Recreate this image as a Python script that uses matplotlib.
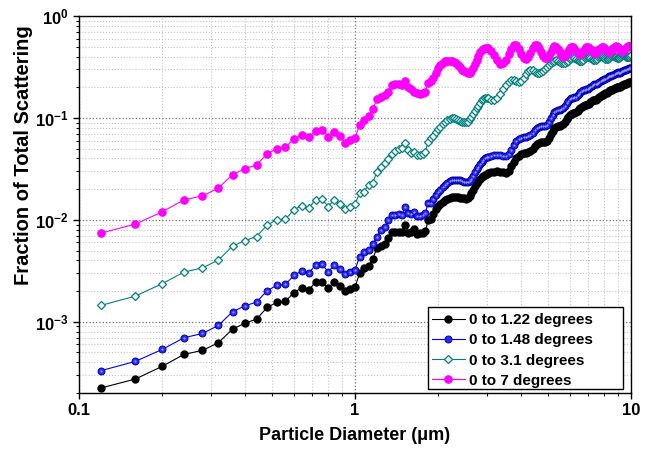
import numpy as np
import matplotlib
matplotlib.use("Agg")
import matplotlib.pyplot as plt
from matplotlib.patches import Rectangle
from matplotlib.ticker import FixedLocator, FixedFormatter, NullFormatter, LogLocator

plt.rcParams['font.family'] = ['Liberation Sans', 'DejaVu Sans']
plt.rcParams['font.weight'] = 'bold'
plt.rcParams['mathtext.fontset'] = 'custom'
plt.rcParams['mathtext.rm'] = 'Liberation Sans:bold'
plt.rcParams['mathtext.bf'] = 'Liberation Sans:bold'
plt.rcParams['mathtext.it'] = 'Liberation Sans:bold:italic'

# particle diameter (um): 0.04 steps up to 3 um, 0.08 steps above
diameter_um = [
    0.12, 0.16, 0.20, 0.24, 0.28, 0.32, 0.36, 0.40, 0.44, 0.48, 0.52, 0.56,
    0.60, 0.64, 0.68, 0.72, 0.76, 0.80, 0.84, 0.88, 0.92, 0.96, 1.00,
    1.04, 1.08, 1.12, 1.16, 1.20, 1.24, 1.28, 1.32, 1.36, 1.40, 1.44, 1.48,
    1.52, 1.56, 1.60, 1.64, 1.68, 1.72, 1.76, 1.80, 1.84, 1.88, 1.92, 1.96, 2.00,
    2.04, 2.08, 2.12, 2.16, 2.20, 2.24, 2.28, 2.32, 2.36, 2.40, 2.44, 2.48,
    2.52, 2.56, 2.60, 2.64, 2.68, 2.72, 2.76, 2.80, 2.84, 2.88, 2.92, 2.96, 3.00,
    3.04, 3.12, 3.20, 3.28, 3.36, 3.44, 3.52, 3.60, 3.68, 3.76, 3.84, 3.92,
    4.00, 4.08, 4.16, 4.24, 4.32, 4.40, 4.48, 4.56, 4.64, 4.72, 4.80, 4.88, 4.96,
    5.04, 5.12, 5.20, 5.28, 5.36, 5.44, 5.52, 5.60, 5.68, 5.76, 5.84, 5.92,
    6.00, 6.08, 6.16, 6.24, 6.32, 6.40, 6.48, 6.56, 6.64, 6.72, 6.80, 6.88, 6.96,
    7.04, 7.12, 7.20, 7.28, 7.36, 7.44, 7.52, 7.60, 7.68, 7.76, 7.84, 7.92,
    8.00, 8.08, 8.16, 8.24, 8.32, 8.40, 8.48, 8.56, 8.64, 8.72, 8.80, 8.88, 8.96,
    9.04, 9.12, 9.20, 9.28, 9.36, 9.44, 9.52, 9.60, 9.68, 9.76, 9.84, 9.92,
    10.00,
]

# log10 of the fraction of total scattering
log_frac_122 = [
    -3.650, -3.562, -3.438, -3.320, -3.281, -3.206, -3.072, -3.013, -2.974, -2.860, -2.811, -2.801,
    -2.713, -2.670, -2.690, -2.608, -2.605, -2.670, -2.608, -2.647, -2.703, -2.676, -2.657,
    -2.523, -2.474, -2.454, -2.382, -2.279, -2.255, -2.240, -2.176, -2.123, -2.115, -2.115, -2.115,
    -2.049, -2.130, -2.118, -2.093, -2.137, -2.132, -2.127, -2.113, -2.000, -1.995, -1.941, -1.897, -1.868,
    -1.843, -1.824, -1.804, -1.792, -1.784, -1.779, -1.777, -1.777, -1.779, -1.782, -1.784, -1.789,
    -1.791, -1.787, -1.770, -1.740, -1.706, -1.672, -1.642, -1.618, -1.598, -1.581, -1.569, -1.557, -1.549,
    -1.542, -1.532, -1.526, -1.525, -1.527, -1.534, -1.537, -1.520, -1.475, -1.431, -1.392, -1.371,
    -1.356, -1.348, -1.340, -1.333, -1.324, -1.304, -1.279, -1.258, -1.242, -1.235, -1.233, -1.235, -1.230,
    -1.201, -1.162, -1.127, -1.103, -1.088, -1.081, -1.078, -1.074, -1.062, -1.039, -1.015, -0.990,
    -0.971, -0.961, -0.956, -0.951, -0.944, -0.931, -0.917, -0.902, -0.890, -0.882, -0.877, -0.873, -0.868,
    -0.860, -0.848, -0.836, -0.828, -0.824, -0.821, -0.817, -0.809, -0.797, -0.786, -0.779, -0.775,
    -0.763, -0.760, -0.752, -0.742, -0.734, -0.730, -0.728, -0.725, -0.721, -0.711, -0.703, -0.698, -0.696,
    -0.696, -0.692, -0.686, -0.679, -0.675, -0.672, -0.669, -0.665, -0.660, -0.655, -0.652, -0.650,
    -0.647,
]

log_frac_148 = [
    -3.480, -3.389, -3.272, -3.157, -3.115, -3.036, -2.902, -2.843, -2.807, -2.696, -2.644, -2.634,
    -2.546, -2.503, -2.523, -2.441, -2.438, -2.510, -2.444, -2.480, -2.532, -2.507, -2.490,
    -2.360, -2.314, -2.294, -2.235, -2.167, -2.103, -2.074, -2.005, -1.956, -1.951, -1.946, -1.951,
    -1.875, -1.936, -1.946, -1.922, -1.961, -1.966, -1.956, -1.931, -1.836, -1.833, -1.794, -1.760, -1.730,
    -1.706, -1.681, -1.657, -1.637, -1.623, -1.613, -1.608, -1.606, -1.608, -1.613, -1.620, -1.625,
    -1.629, -1.632, -1.623, -1.598, -1.569, -1.534, -1.505, -1.480, -1.456, -1.431, -1.412, -1.397, -1.387,
    -1.380, -1.371, -1.365, -1.363, -1.366, -1.373, -1.375, -1.358, -1.314, -1.270, -1.230, -1.209,
    -1.199, -1.191, -1.183, -1.176, -1.167, -1.147, -1.123, -1.101, -1.085, -1.078, -1.076, -1.078, -1.074,
    -1.044, -1.005, -0.971, -0.946, -0.931, -0.925, -0.922, -0.917, -0.905, -0.882, -0.858, -0.833,
    -0.819, -0.809, -0.804, -0.799, -0.792, -0.779, -0.765, -0.750, -0.738, -0.730, -0.725, -0.721, -0.716,
    -0.708, -0.696, -0.684, -0.676, -0.672, -0.669, -0.665, -0.657, -0.645, -0.634, -0.627, -0.624,
    -0.621, -0.618, -0.610, -0.600, -0.592, -0.588, -0.586, -0.583, -0.578, -0.569, -0.561, -0.556, -0.554,
    -0.559, -0.555, -0.549, -0.542, -0.537, -0.534, -0.531, -0.527, -0.523, -0.518, -0.515, -0.513,
    -0.510,
]

log_frac_31 = [
    -2.840, -2.748, -2.627, -2.513, -2.471, -2.395, -2.258, -2.203, -2.164, -2.052, -2.000, -1.993,
    -1.902, -1.860, -1.882, -1.804, -1.797, -1.870, -1.804, -1.843, -1.895, -1.870, -1.843,
    -1.738, -1.723, -1.657, -1.637, -1.529, -1.480, -1.441, -1.402, -1.353, -1.324, -1.304, -1.294,
    -1.248, -1.314, -1.346, -1.333, -1.363, -1.363, -1.353, -1.333, -1.232, -1.199, -1.176, -1.134, -1.111,
    -1.088, -1.064, -1.044, -1.025, -1.010, -1.003, -1.005, -1.013, -1.023, -1.029, -1.036, -1.042,
    -1.044, -1.036, -1.015, -0.990, -0.961, -0.931, -0.905, -0.882, -0.853, -0.828, -0.814, -0.804, -0.801,
    -0.804, -0.821, -0.821, -0.801, -0.765, -0.719, -0.676, -0.644, -0.628, -0.630, -0.641, -0.647,
    -0.636, -0.607, -0.570, -0.540, -0.529, -0.534, -0.546, -0.556, -0.559, -0.553, -0.541, -0.524, -0.504,
    -0.483, -0.465, -0.448, -0.439, -0.436, -0.440, -0.449, -0.459, -0.465, -0.465, -0.455, -0.439,
    -0.423, -0.411, -0.407, -0.412, -0.422, -0.434, -0.443, -0.446, -0.440, -0.428, -0.415, -0.403, -0.400,
    -0.404, -0.413, -0.424, -0.431, -0.434, -0.429, -0.418, -0.404, -0.393, -0.390, -0.394, -0.402,
    -0.412, -0.420, -0.422, -0.418, -0.409, -0.398, -0.390, -0.387, -0.390, -0.398, -0.406, -0.413, -0.415,
    -0.411, -0.402, -0.392, -0.384, -0.382, -0.385, -0.392, -0.399, -0.405, -0.407, -0.402, -0.394,
    -0.387,
]

log_frac_7 = [
    -2.130, -2.042, -1.922, -1.804, -1.765, -1.689, -1.556, -1.497, -1.461, -1.353, -1.301, -1.287,
    -1.206, -1.170, -1.189, -1.125, -1.115, -1.186, -1.140, -1.176, -1.242, -1.219, -1.193,
    -1.069, -1.020, -0.980, -0.915, -0.817, -0.791, -0.775, -0.742, -0.676, -0.667, -0.667, -0.676,
    -0.634, -0.699, -0.719, -0.742, -0.758, -0.765, -0.752, -0.742, -0.660, -0.634, -0.605, -0.562, -0.515,
    -0.480, -0.461, -0.446, -0.441, -0.438, -0.441, -0.451, -0.466, -0.485, -0.505, -0.525, -0.541,
    -0.554, -0.562, -0.559, -0.544, -0.515, -0.475, -0.431, -0.392, -0.358, -0.336, -0.324, -0.318, -0.317,
    -0.318, -0.341, -0.387, -0.435, -0.467, -0.466, -0.432, -0.377, -0.323, -0.289, -0.289, -0.322,
    -0.370, -0.411, -0.425, -0.405, -0.364, -0.318, -0.288, -0.287, -0.311, -0.350, -0.388, -0.412, -0.412,
    -0.387, -0.349, -0.314, -0.295, -0.300, -0.323, -0.355, -0.383, -0.398, -0.394, -0.374, -0.344,
    -0.318, -0.305, -0.308, -0.323, -0.343, -0.364, -0.375, -0.375, -0.365, -0.345, -0.325, -0.309, -0.304,
    -0.310, -0.323, -0.338, -0.353, -0.362, -0.362, -0.353, -0.338, -0.323, -0.310, -0.304, -0.307,
    -0.316, -0.327, -0.340, -0.350, -0.353, -0.349, -0.339, -0.326, -0.313, -0.303, -0.299, -0.302, -0.309,
    -0.320, -0.330, -0.339, -0.343, -0.341, -0.334, -0.324, -0.311, -0.301, -0.295, -0.294, -0.296,
    -0.299,
]

labels = ['0 to 1.22 degrees', '0 to 1.48 degrees', '0 to 3.1 degrees', '0 to 7 degrees']

d = np.array(diameter_um)
y122 = 10 ** np.array(log_frac_122)
y148 = 10 ** np.array(log_frac_148)
y31 = 10 ** np.array(log_frac_31)
y7 = 10 ** np.array(log_frac_7)

fig = plt.figure(figsize=(6.53, 4.49), dpi=100)
ax = fig.add_axes([79 / 653, 1 - 393 / 449, 552 / 653, 377 / 449])

ax.plot(d, y122, color='black', lw=0.8, marker='o', ms=5.0,
        mfc='black', mec='black', label=labels[0])
ax.plot(d, y148, color='#0000ff', lw=0.8, marker='o', ms=5.0,
        mfc='#2a2aff', mec='#0000a8', mew=0.7, label=labels[1])
# small light centre on the blue spheres
ax.plot(d, y148, ls='none', marker='o', ms=1.6, mfc='#9a9aff', mec='none')
ax.plot(d, y31, color='#008080', lw=0.8, marker='D', ms=4.4,
        mfc='white', mec='#008080', mew=0.9, label=labels[2])
ax.plot(d, y7, color='#ff00ff', lw=0.8, marker='o', ms=5.2,
        mfc='#ff00ff', mec='#ff00ff', label=labels[3])

ax.set_xscale('log')
ax.set_yscale('log')
ax.set_xlim(0.1, 10)
ax.set_ylim(2.0e-4, 1)

ax.xaxis.set_major_locator(FixedLocator([0.1, 1, 10]))
ax.xaxis.set_major_formatter(FixedFormatter(['0.1', '1', '10']))
ax.xaxis.set_minor_locator(LogLocator(base=10, subs=np.arange(2, 10)))
ax.xaxis.set_minor_formatter(NullFormatter())
ax.yaxis.set_major_locator(FixedLocator([1e-3, 1e-2, 1e-1, 1]))
ax.yaxis.set_major_formatter(FixedFormatter([r'$\mathbf{10^{-3}}$', r'$\mathbf{10^{-2}}$',
                                             r'$\mathbf{10^{-1}}$', r'$\mathbf{10^{0}}$']))
ax.yaxis.set_minor_locator(LogLocator(base=10, subs=np.arange(2, 10)))
ax.yaxis.set_minor_formatter(NullFormatter())

ax.grid(which='major', linestyle=':', color='#707070', linewidth=0.9)
ax.grid(which='minor', linestyle=':', color='#c4c4c4', linewidth=0.8)
ax.set_axisbelow(True)

ax.tick_params(which='major', direction='out', length=4, width=1, labelsize=12)
ax.tick_params(which='minor', direction='out', length=2.5, width=0.8)
for s in ax.spines.values():
    s.set_linewidth(1.0)

ax.set_xlabel('Particle Diameter (\u03bcm)', fontsize=13, fontweight='bold')
ax.set_ylabel('Fraction of Total Scattering', fontsize=14.5, fontweight='bold')
ax.xaxis.set_label_coords(0.5, -0.09)
ax.yaxis.set_label_coords(-0.083, 0.63)

# legend: entries without frame, box drawn separately (wider than the entries)
leg = ax.legend(loc='upper left', bbox_to_anchor=(0.6395, 0.2122), borderaxespad=0,
                frameon=False, handlelength=2.15, handletextpad=0.25, labelspacing=0.41,
                borderpad=0, prop={'weight': 'bold', 'size': 11})
ax.add_patch(Rectangle((0.632, 0.0106), 0.353, 0.2175, transform=ax.transAxes,
                       facecolor='white', edgecolor='black', linewidth=1.0, zorder=4))
leg.set_zorder(5)

fig.savefig('out.png', dpi=100)
